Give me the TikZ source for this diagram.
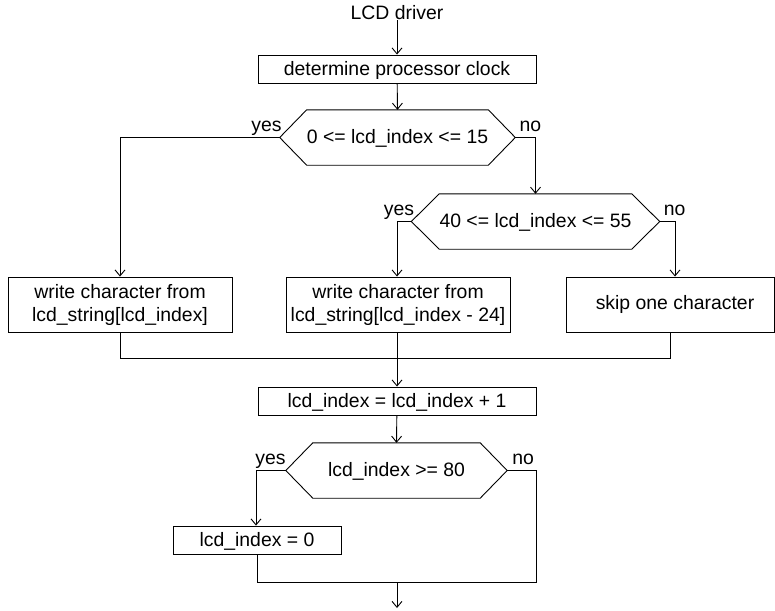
\documentclass[tikz,border=0pt]{standalone}
\usepackage{fontspec}
\setmainfont{Liberation Sans}
\usetikzlibrary{arrows.meta,calc}
\begin{document}
\begin{tikzpicture}[x=1pt,y=-1pt,
  every node/.style={font=\fontsize{19.4}{23}\selectfont, inner sep=0pt},
  wire/.style={line width=0.9pt, black},
  arr/.style={wire, -{Straight Barb[length=6pt,width=10pt]}},
  proc/.style={draw, line width=0.9pt, minimum height=28pt, text height=15pt, text depth=3pt},
  procmulti/.style={draw, line width=0.9pt, minimum height=55pt, align=center},
  hexbox/.style={minimum width=167pt, minimum height=55pt, text height=15pt, text depth=3pt},
  lbl/.style={text height=, text depth=}
]
\useasboundingbox (0,0) rectangle (775,610);

% title and first box
\node[anchor=base] (title) at (397,20) {LCD driver};
\node[proc, minimum width=278pt] (b1) at (397,69) {determine processor clock};

% decision 1
\node[hexbox] (h1) at (397.5,137.5) {0 <= lcd\_index <= 15};
\coordinate (h1l) at ($(h1.west)+(-27,0)$);
\coordinate (h1r) at ($(h1.east)+(27,0)$);
\draw[wire] (h1.north west) -- (h1.north east) -- (h1r) -- (h1.south east) -- (h1.south west) -- (h1l) -- cycle;

% decision 2
\node[hexbox] (h2) at (535.5,221.5) {40 <= lcd\_index <= 55};
\coordinate (h2l) at ($(h2.west)+(-28,0)$);
\coordinate (h2r) at ($(h2.east)+(28,0)$);
\draw[wire] (h2.north west) -- (h2.north east) -- (h2r) -- (h2.south east) -- (h2.south west) -- (h2l) -- cycle;

% action boxes
\node[procmulti, minimum width=224pt] (wl) at (120,304.5) {write character from\\lcd\_string[lcd\_index]};
\node[procmulti, minimum width=224pt] (wm) at (398,304.5) {write character from\\lcd\_string[lcd\_index - 24]};
\node[procmulti, minimum width=208pt] (skip) at (670,304.5) {\hspace*{10pt}skip one character};

% increment
\node[proc, minimum width=278pt] (b2) at (397,401) {lcd\_index = lcd\_index + 1};

% decision 3
\node[hexbox] (h3) at (396.5,470.5) {lcd\_index >= 80};
\coordinate (h3l) at ($(h3.west)+(-27,0)$);
\coordinate (h3r) at ($(h3.east)+(27,0)$);
\draw[wire] (h3.north west) -- (h3.north east) -- (h3r) -- (h3.south east) -- (h3.south west) -- (h3l) -- cycle;

\node[proc, minimum width=168pt] (z) at (257,540) {lcd\_index = 0};

% yes / no labels
\node[anchor=base east] (y1) at ($(h1l)+(2,-6)$) {yes};
\node[anchor=base west] (n1) at ($(h1r)+(4,-6)$) {no};
\node[anchor=base east] (y2) at ($(h2l)+(3,-6)$) {yes};
\node[anchor=base west] (n2) at ($(h2r)+(4,-6)$) {no};
\node[anchor=base east] (y3) at ($(h3l)+(0,-6)$) {yes};
\node[anchor=base west] (n3) at ($(h3r)+(5,-6)$) {no};

% merge points
\coordinate (m1) at (397,358);
\coordinate (m2) at (397,582);
\coordinate (m2r) at (536,582);
\coordinate (endc) at (397,608);

% connectors
\draw[arr] (title) -- (b1);
\draw[arr] (b1) -- (h1.north);
\draw[arr] (h1l) -| (wl.north);
\draw[arr] (h1r) -| (h2.north);
\draw[arr] (h2l) -| ($(wm.north)+(-1,0)$);
\draw[arr] (h2r) -| ($(skip.north)+(5,0)$);
\draw[wire] (wl.south) |- (m1);
\draw[wire] (skip.south) |- (m1);
\draw[wire] ($(wm.south)+(-1,0)$) -- (m1);
\draw[arr] (m1) -- (b2.north);
\draw[arr] (b2) -- (h3.north);
\draw[arr] (h3l) -| ($(z.north)+(-1,0)$);
\draw[wire] (h3r) -| (m2r) -- (m2);
\draw[wire] (z.south) |- (m2);
\draw[arr] (m2) -- (endc);
\end{tikzpicture}
\end{document}
